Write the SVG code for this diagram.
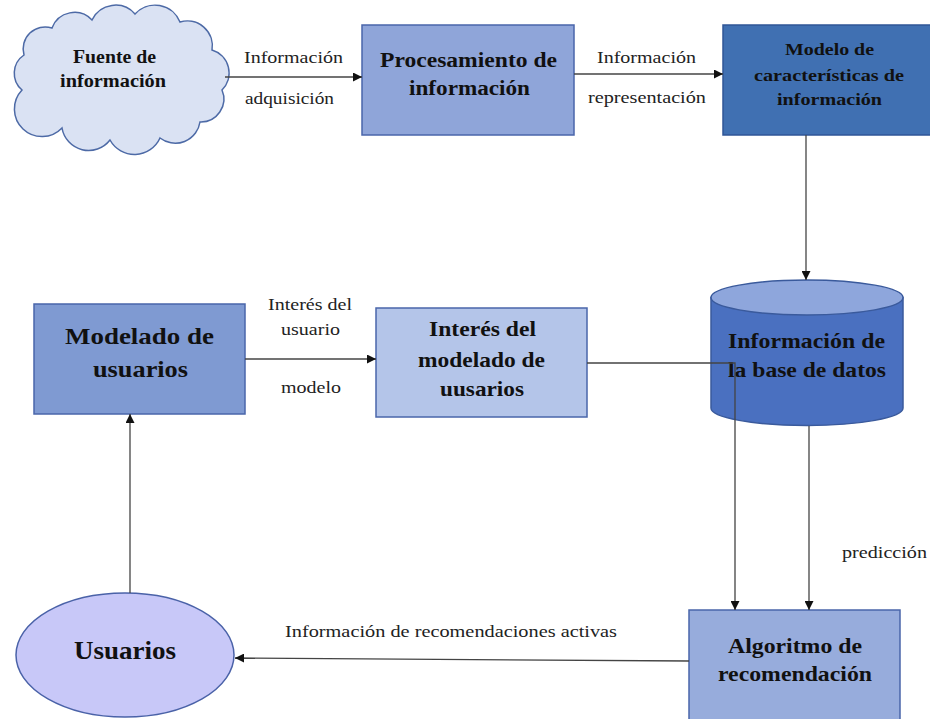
<svg xmlns="http://www.w3.org/2000/svg" width="930" height="719" viewBox="0 0 930 719">
<style>
.b{font-family:"Liberation Serif","Times New Roman",serif;font-weight:bold;fill:#111;text-anchor:middle}
.l{font-family:"Liberation Serif","Times New Roman",serif;fill:#222;text-anchor:middle;font-size:17px}
.c{fill:none;stroke:#444;stroke-width:1.3}
.n{stroke-width:1.5}
</style>
<defs>
<marker id="ah" viewBox="0 0 10 10" refX="10" refY="5" markerWidth="9" markerHeight="9" markerUnits="userSpaceOnUse" orient="auto">
<path d="M0,0 L10,5 L0,10 Z" fill="#111"/>
</marker>
</defs>
<rect width="930" height="719" fill="#fff"/>

<g id="fuente">
<path class="n" fill="#dae2f3" stroke="#4d6aa6" d="M22,90 A22,22 0 0 1 24,55 A22,22 0 0 1 52,28 A24,24 0 0 1 92,20 A26,26 0 0 1 135,14 A27,27 0 0 1 180,22 A25,25 0 0 1 212,50 A24,24 0 0 1 222,90 A23,23 0 0 1 200,122 A25,25 0 0 1 160,138 A28,28 0 0 1 110,140 A27,27 0 0 1 62,128 A25,25 0 0 1 22,90 Z"/>
<text class="b" font-size="18" x="114.5" y="63" textLength="83" lengthAdjust="spacingAndGlyphs">Fuente de</text>
<text class="b" font-size="18" x="113" y="87" textLength="106" lengthAdjust="spacingAndGlyphs">información</text>
</g>

<g id="procesamiento">
<rect class="n" x="362" y="25" width="212" height="110" fill="#8fa5d9" stroke="#4a66aa"/>
<text class="b" font-size="20" x="468.5" y="67" textLength="177" lengthAdjust="spacingAndGlyphs">Procesamiento de</text>
<text class="b" font-size="20" x="469.5" y="95" textLength="121" lengthAdjust="spacingAndGlyphs">información</text>
</g>

<g id="modelo">
<rect class="n" x="723" y="25" width="212" height="110" fill="#4070b2" stroke="#2f5597"/>
<text class="b" font-size="17" x="829.5" y="55" textLength="89" lengthAdjust="spacingAndGlyphs">Modelo de</text>
<text class="b" font-size="17" x="829" y="81" textLength="150" lengthAdjust="spacingAndGlyphs">características de</text>
<text class="b" font-size="17" x="829.5" y="105" textLength="105" lengthAdjust="spacingAndGlyphs">información</text>
</g>

<g id="basedatos">
<path class="n" d="M711,297.5 V408 A96,17.5 0 0 0 903,408 V297.5 Z" fill="#4a70c0" stroke="#3a5a9c"/>
<ellipse class="n" cx="807" cy="297.5" rx="96" ry="17.5" fill="#8ea6dc" stroke="#3a5a9c"/>
<text class="b" font-size="21" x="806.5" y="348" textLength="157" lengthAdjust="spacingAndGlyphs">Información de</text>
<text class="b" font-size="21" x="807" y="377" textLength="158" lengthAdjust="spacingAndGlyphs">la base de datos</text>
</g>

<g id="modelado">
<rect class="n" x="34" y="304" width="211" height="110" fill="#7f9ad2" stroke="#4a66aa"/>
<text class="b" font-size="24" x="139.5" y="344" textLength="149" lengthAdjust="spacingAndGlyphs">Modelado de</text>
<text class="b" font-size="24" x="140.5" y="377" textLength="95" lengthAdjust="spacingAndGlyphs">usuarios</text>
</g>

<g id="interes">
<rect class="n" x="376" y="308" width="211" height="109" fill="#b4c5e9" stroke="#4a66aa"/>
<text class="b" font-size="21" x="482.5" y="336" textLength="107" lengthAdjust="spacingAndGlyphs">Interés del</text>
<text class="b" font-size="21" x="481.5" y="367" textLength="127" lengthAdjust="spacingAndGlyphs">modelado de</text>
<text class="b" font-size="21" x="482" y="396" textLength="84" lengthAdjust="spacingAndGlyphs">uusarios</text>
</g>

<g id="algoritmo">
<rect class="n" x="689" y="610" width="211" height="115" fill="#97acdc" stroke="#4a66aa"/>
<text class="b" font-size="21" x="795" y="653" textLength="134" lengthAdjust="spacingAndGlyphs">Algoritmo de</text>
<text class="b" font-size="21" x="795" y="681" textLength="154" lengthAdjust="spacingAndGlyphs">recomendación</text>
</g>

<g id="usuarios">
<ellipse class="n" cx="125" cy="655" rx="109" ry="62" fill="#c8c8f8" stroke="#4a62a8"/>
<text class="b" font-size="25" x="125" y="659" textLength="102" lengthAdjust="spacingAndGlyphs">Usuarios</text>
</g>

<g id="connectors">
<path class="c" d="M225,77 H362" marker-end="url(#ah)"/>
<path class="c" d="M574,74 H723" marker-end="url(#ah)"/>
<path class="c" d="M806,135 V280" marker-end="url(#ah)"/>
<path class="c" d="M245,359 H376" marker-end="url(#ah)"/>
<path class="c" d="M587,363 H735 V610" marker-end="url(#ah)"/>
<path class="c" d="M809,426 V610" marker-end="url(#ah)"/>
<path class="c" d="M689,661 L235,658" marker-end="url(#ah)"/>
<path class="c" d="M130,593 V414" marker-end="url(#ah)"/>
</g>

<g id="labels">
<text class="l" x="293.5" y="63" textLength="99" lengthAdjust="spacingAndGlyphs">Información</text>
<text class="l" x="289.5" y="104" textLength="89" lengthAdjust="spacingAndGlyphs">adquisición</text>
<text class="l" x="646.5" y="63" textLength="99" lengthAdjust="spacingAndGlyphs">Información</text>
<text class="l" x="647" y="103" textLength="118" lengthAdjust="spacingAndGlyphs">representación</text>
<text class="l" x="310" y="310" textLength="84" lengthAdjust="spacingAndGlyphs">Interés del</text>
<text class="l" x="310.5" y="335" textLength="59" lengthAdjust="spacingAndGlyphs">usuario</text>
<text class="l" x="311" y="393" textLength="60" lengthAdjust="spacingAndGlyphs">modelo</text>
<text class="l" x="884.5" y="558" textLength="85" lengthAdjust="spacingAndGlyphs">predicción</text>
<text class="l" x="451" y="637" textLength="332" lengthAdjust="spacingAndGlyphs">Información de recomendaciones activas</text>
</g>
</svg>
